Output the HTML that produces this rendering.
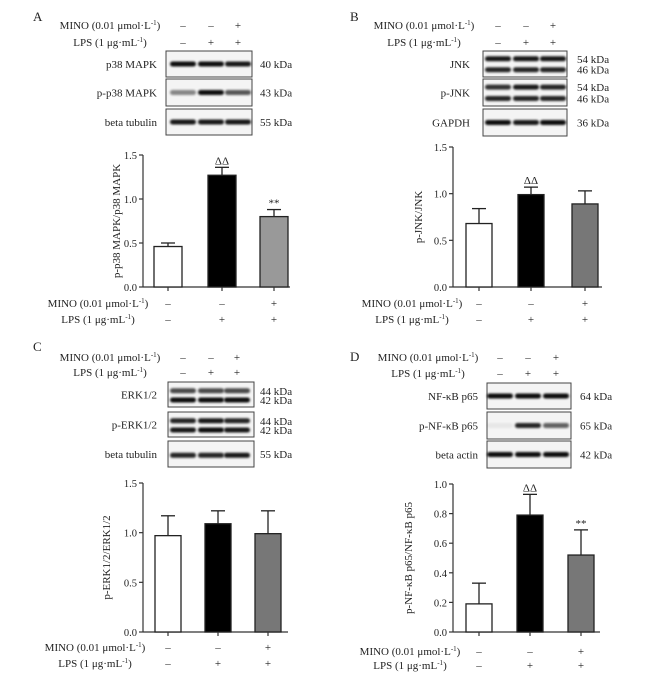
<!DOCTYPE html>
<html><head><meta charset="utf-8">
<style>
html,body{margin:0;padding:0;background:#fff;}
svg{display:block;font-family:"Liberation Serif",serif;}
</style></head>
<body>
<svg id="fig" width="647" height="679" viewBox="0 0 647 679" xmlns="http://www.w3.org/2000/svg">
<defs><filter id="blur" x="-20%" y="-50%" width="140%" height="200%"><feGaussianBlur stdDeviation="1.1"/></filter></defs>
</svg>
<script>
// ---- data ----
const groups = ["Control", "LPS", "LPS+MINO"];
const minoSigns = ["\u2013", "\u2013", "+"];
const lpsSigns = ["\u2013", "+", "+"];
const valuesA = [0.46, 1.27, 0.80];
const errorsA = [0.04, 0.09, 0.08];
const valuesB = [0.68, 0.99, 0.89];
const errorsB = [0.16, 0.08, 0.14];
const valuesC = [0.97, 1.09, 0.99];
const errorsC = [0.20, 0.13, 0.23];
const valuesD = [0.19, 0.79, 0.52];
const errorsD = [0.14, 0.14, 0.17];
const ticksA = [0, 0.5, 1.0, 1.5];
const ticksB = [0, 0.5, 1.0, 1.5];
const ticksC = [0, 0.5, 1.0, 1.5];
const ticksD = [0, 0.2, 0.4, 0.6, 0.8, 1.0];
const signifA = ["", "\u0394\u0394", "**"];
const signifB = ["", "\u0394\u0394", ""];
const signifC = ["", "", ""];
const signifD = ["", "\u0394\u0394", "**"];
const barFills = ["#ffffff", "#000000", "#999999"];
const barFillsDark = ["#ffffff", "#000000", "#777777"];

const NS = "http://www.w3.org/2000/svg";
const svg = document.getElementById("fig");
function mk(tag, attrs, parent) {
  const e = document.createElementNS(NS, tag);
  for (const k in attrs) e.setAttribute(k, attrs[k]);
  (parent || svg).appendChild(e);
  return e;
}
function txt(x, y, s, anchor, parent, size) {
  const t = mk("text", {x: x, y: y, "text-anchor": anchor || "start", "font-size": size || 11, fill: "#222"}, parent);
  t.textContent = s;
  return t;
}
function unitLabel(x, y, pre, post, parent) {
  const t = mk("text", {x: x, y: y, "text-anchor": "middle", "font-size": 11, fill: "#222"}, parent);
  const a = document.createElementNS(NS, "tspan"); a.textContent = pre; t.appendChild(a);
  const b = document.createElementNS(NS, "tspan"); b.setAttribute("font-size", "7"); b.setAttribute("dy", "-4"); b.textContent = "-1"; t.appendChild(b);
  const c = document.createElementNS(NS, "tspan"); c.setAttribute("dy", "4"); c.textContent = ")"; t.appendChild(c);
  return t;
}
function treatRows(cx, yM, yL, lanes, g) {
  const m = unitLabel(cx, yM + 4, "MINO (0.01 \u03bcmol\u00b7L", "", g);
  
  
  const l = unitLabel(cx, yL + 4, "LPS (1 \u03bcg\u00b7mL", "", g);
  
  
  lanes.forEach((lx, i) => {
    const a = txt(lx, yM + 4, minoSigns[i], "middle", g);
    
    
    const b = txt(lx, yL + 4, lpsSigns[i], "middle", g);
    
    
  });
}

function panel(cfg, values, errors, ticks, signif, fills) {
  const g = mk("g", {});
  
  
  const L = txt(cfg.letterX, cfg.letterY, cfg.letter, "start", g, 13);
  
  
  treatRows(cfg.headCx, cfg.minoY, cfg.lpsY, cfg.lanes, g);
  // blots
  cfg.boxes.forEach(b => {
    const bg = mk("g", {}, g);
    
    
    mk("rect", {x: cfg.boxX, y: b.y, width: cfg.boxW, height: b.h, fill: "#f4f4f4", stroke: "#444", "stroke-width": 1}, bg);
    b.bands.forEach((row, ri) => {
      const by = b.y + b.h * b.pos[ri];
      cfg.lanes.forEach((lx, li) => {
        const v = row[li];
        if (v <= 0) return;
        const band = mk("rect", {x: lx - 13, y: by - 2.5, width: 26, height: 5, rx: 2.5, fill: "#000", opacity: v, filter: "url(#blur)"}, bg);
        
        
      });
    });
    const lt = txt(cfg.labelRight, b.y + b.h / 2 + 4, b.label, "end", bg);
    
    
    b.kda.forEach((k, ki) => {
      const ky = b.kda.length === 1 ? b.y + b.h / 2 + 4 : b.y + b.h * b.pos[ki] + 4;
      const kt = txt(cfg.kdaX, ky, k, "start", bg);
      
      
    });
  });
  // chart
  const ymax = ticks[ticks.length - 1];
  const yS = v => cfg.y0 - (v / ymax) * (cfg.y0 - cfg.yTop);
  const ax = mk("g", {}, g);
  
  
  mk("line", {x1: cfg.axisX, y1: cfg.yTop, x2: cfg.axisX, y2: cfg.y0, stroke: "#333", "stroke-width": 1.2}, ax);
  ticks.forEach(t => {
    mk("line", {x1: cfg.axisX - 4, y1: yS(t), x2: cfg.axisX, y2: yS(t), stroke: "#333", "stroke-width": 1.2}, ax);
    const tl = txt(cfg.axisX - 6, yS(t) + 4, t.toFixed(1), "end", ax, 10.5);
    
    
  });
  const xa = mk("line", {x1: cfg.axisX, y1: cfg.y0, x2: cfg.xEnd, y2: cfg.y0, stroke: "#333", "stroke-width": 1.2}, g);
  
  
  const yt = mk("text", {x: 0, y: 0, "text-anchor": "middle", "font-size": 11, fill: "#222", transform: "translate(" + cfg.titleX + "," + ((cfg.yTop + cfg.y0) / 2) + ") rotate(-90)"}, g);
  yt.textContent = cfg.yTitle;
  
  
  values.forEach((v, i) => {
    const cx = cfg.centers[i];
    const bw = cfg.bw;
    const top = yS(v), et = yS(v + errors[i]);
    mk("line", {x1: cx, y1: top, x2: cx, y2: et, stroke: "#222", "stroke-width": 1.3}, g);
    mk("line", {x1: cx - 7, y1: et, x2: cx + 7, y2: et, stroke: "#222", "stroke-width": 1.3}, g);
    const r = mk("rect", {x: cx - bw / 2, y: top, width: bw, height: cfg.y0 - top, fill: fills[i], stroke: "#222", "stroke-width": 1.3}, g);
    
    
    mk("line", {x1: cx, y1: cfg.y0, x2: cx, y2: cfg.y0 + 4, stroke: "#333", "stroke-width": 1.2}, g);
    if (signif[i]) {
      const s = txt(cx, et - 3, signif[i], "middle", g, 11);
      
      
    }
  });
  treatRows(cfg.botCx, cfg.botM, cfg.botL, cfg.centers, g);
}

panel({letter: "A", letterX: 33, letterY: 21, headCx: 110, minoY: 25, lpsY: 42, lanes: [183, 211, 238],
  boxX: 166, boxW: 86, labelRight: 157, kdaX: 260,
  boxes: [
    {y: 51, h: 26, label: "p38 MAPK", kda: ["40 kDa"], pos: [0.5], bands: [[0.95, 0.95, 0.9]]},
    {y: 79, h: 27, label: "p-p38 MAPK", kda: ["43 kDa"], pos: [0.5], bands: [[0.45, 0.95, 0.65]]},
    {y: 109, h: 26, label: "beta tubulin", kda: ["55 kDa"], pos: [0.5], bands: [[0.9, 0.9, 0.9]]}],
  axisX: 143, y0: 287, yTop: 155, xEnd: 290, centers: [168, 222, 274], bw: 28, titleX: 120,
  yTitle: "p-p38 MAPK/p38 MAPK", botCx: 98, botM: 303, botL: 319}, valuesA, errorsA, ticksA, signifA, barFills);

panel({letter: "B", letterX: 350, letterY: 21, headCx: 424, minoY: 25, lpsY: 42, lanes: [498, 526, 553],
  boxX: 483, boxW: 84, labelRight: 470, kdaX: 577,
  boxes: [
    {y: 51, h: 26, label: "JNK", kda: ["54 kDa", "46 kDa"], pos: [0.3, 0.72], bands: [[0.9, 0.9, 0.9], [0.85, 0.85, 0.85]]},
    {y: 79, h: 27, label: "p-JNK", kda: ["54 kDa", "46 kDa"], pos: [0.3, 0.72], bands: [[0.8, 0.9, 0.85], [0.85, 0.85, 0.85]]},
    {y: 109, h: 27, label: "GAPDH", kda: ["36 kDa"], pos: [0.5], bands: [[0.95, 0.9, 0.95]]}],
  axisX: 453, y0: 287, yTop: 147, xEnd: 602, centers: [479, 531, 585], bw: 26, titleX: 422,
  yTitle: "p-JNK/JNK", botCx: 412, botM: 303, botL: 319}, valuesB, errorsB, ticksB, signifB, barFillsDark);

panel({letter: "C", letterX: 33, letterY: 351, headCx: 110, minoY: 357, lpsY: 372, lanes: [183, 211, 237],
  boxX: 168, boxW: 86, labelRight: 157, kdaX: 260,
  boxes: [
    {y: 382, h: 25, label: "ERK1/2", kda: ["44 kDa", "42 kDa"], pos: [0.35, 0.72], bands: [[0.7, 0.7, 0.7], [0.95, 0.95, 0.95]]},
    {y: 412, h: 25, label: "p-ERK1/2", kda: ["44 kDa", "42 kDa"], pos: [0.35, 0.72], bands: [[0.85, 0.9, 0.85], [0.9, 0.95, 0.9]]},
    {y: 441, h: 26, label: "beta tubulin", kda: ["55 kDa"], pos: [0.55], bands: [[0.85, 0.85, 0.9]]}],
  axisX: 143, y0: 632, yTop: 483, xEnd: 288, centers: [168, 218, 268], bw: 26, titleX: 110,
  yTitle: "p-ERK1/2/ERK1/2", botCx: 95, botM: 647, botL: 663}, valuesC, errorsC, ticksC, signifC, barFillsDark);

panel({letter: "D", letterX: 350, letterY: 361, headCx: 428, minoY: 357, lpsY: 373, lanes: [500, 528, 556],
  boxX: 487, boxW: 84, labelRight: 478, kdaX: 580,
  boxes: [
    {y: 383, h: 26, label: "NF-\u03baB p65", kda: ["64 kDa"], pos: [0.5], bands: [[0.95, 0.95, 0.95]]},
    {y: 412, h: 27, label: "p-NF-\u03baB p65", kda: ["65 kDa"], pos: [0.5], bands: [[0.05, 0.85, 0.6]]},
    {y: 441, h: 27, label: "beta actin", kda: ["42 kDa"], pos: [0.5], bands: [[0.95, 0.95, 0.95]]}],
  axisX: 453, y0: 632, yTop: 484, xEnd: 600, centers: [479, 530, 581], bw: 26, titleX: 412,
  yTitle: "p-NF-\u03baB p65/NF-\u03baB p65", botCx: 410, botM: 651, botL: 665}, valuesD, errorsD, ticksD, signifD, barFillsDark);
</script>
</body></html>
